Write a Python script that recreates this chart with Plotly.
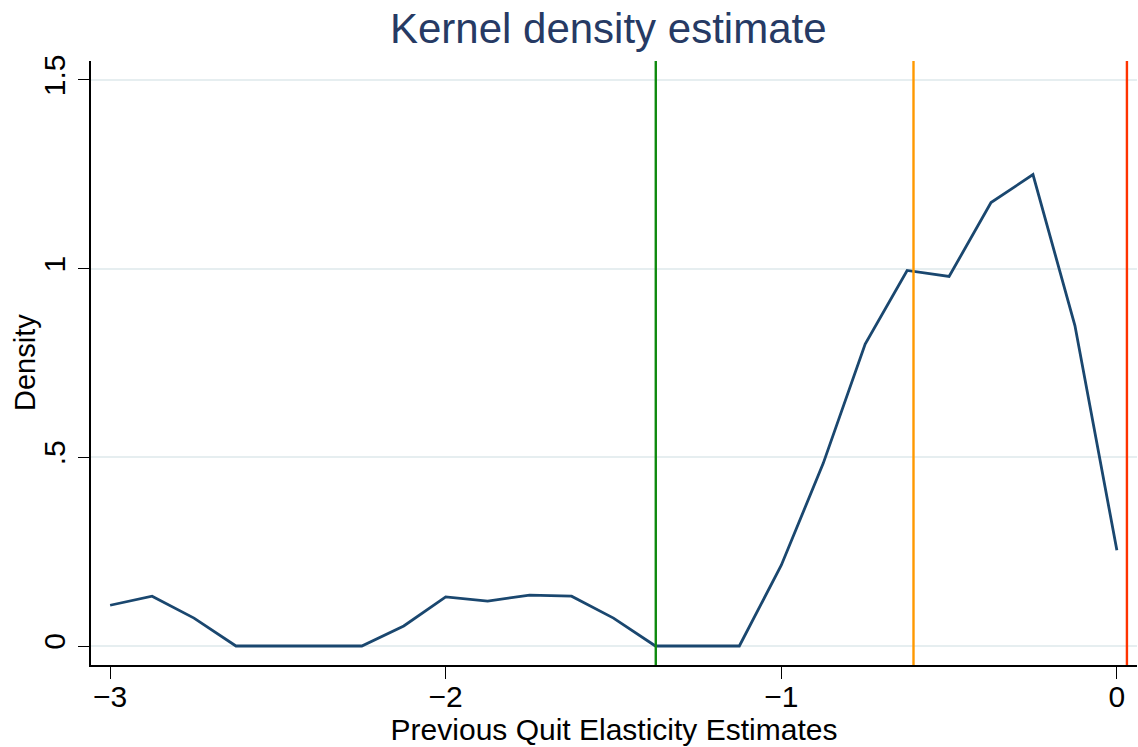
import plotly.graph_objects as go

# Density curve (grid points and estimated density)
x_grid = [-3.0, -2.875, -2.75, -2.625, -2.5, -2.375, -2.25, -2.125, -2.0, -1.875,
          -1.75, -1.625, -1.5, -1.375, -1.25, -1.125, -1.0, -0.875, -0.75, -0.625,
          -0.5, -0.375, -0.25, -0.125, 0.0]
density = [0.108, 0.132, 0.074, 0.0, 0.0, 0.0, 0.0, 0.053, 0.130, 0.119,
           0.135, 0.132, 0.074, 0.0, 0.0, 0.0, 0.214, 0.484, 0.800, 0.995,
           0.979, 1.175, 1.249, 0.849, 0.254]

# Reference lines
ref_x = [-1.374, -0.606, 0.030]
ref_colors = ["#0e8a0e", "#ff9900", "#ff3300"]

x_ticks = [-3, -2, -1, 0]
x_tick_labels = ["\u22123", "\u22122", "\u22121", "0"]
y_ticks = [0, 0.5, 1, 1.5]
y_tick_labels = ["0", ".5", "1", "1.5"]

fig = go.Figure()
fig.add_trace(go.Scatter(x=x_grid, y=density, mode="lines",
                         line=dict(color="#1a476f", width=2.8), showlegend=False,
                         hoverinfo="skip"))

for xv, c in zip(ref_x, ref_colors):
    fig.add_shape(type="line", x0=xv, x1=xv, xref="x", y0=0, y1=1, yref="paper",
                  line=dict(color=c, width=2.4))

font_family = "Liberation Sans, Arial, Helvetica, sans-serif"

fig.add_annotation(text="Density", xref="paper", yref="paper",
                   x=(25 - 91) / 1046, y=0.5, xanchor="center", yanchor="middle",
                   textangle=-90, showarrow=False,
                   font=dict(size=29, color="black", family=font_family))

fig.update_layout(
    width=1138, height=747,
    margin=dict(l=91, r=1, t=61, b=82, autoexpand=False),
    paper_bgcolor="white", plot_bgcolor="white",
    font=dict(family=font_family, color="black", size=29),
    title=dict(text="Kernel density estimate", x=0.5345, xanchor="center",
               y=1 - 28 / 747, yanchor="middle", yref="container",
               font=dict(size=42, color="#263a64", family=font_family)),
    xaxis=dict(range=[-3.057, 0.060], tickvals=x_ticks, ticktext=x_tick_labels,
               showgrid=False, zeroline=False, showline=True, linecolor="black",
               linewidth=1.5, ticks="outside", ticklen=12, tickwidth=1.3,
               tickcolor="black", tickfont=dict(size=30), automargin=False,
               ticklabelstandoff=-8,
               title=dict(text="Previous Quit Elasticity Estimates",
                          font=dict(size=30), standoff=6)),
    yaxis=dict(range=[-0.0503, 1.550], tickvals=y_ticks, ticktext=y_tick_labels,
               showgrid=True, gridcolor="#e6eef0", gridwidth=1.5, zeroline=False,
               showline=True, linecolor="black", linewidth=1.5, ticks="outside",
               ticklen=11, tickwidth=1.3, tickcolor="black", tickangle=-90,
               tickfont=dict(size=30), automargin=False, ticklabelstandoff=1),
)

fig.write_html("out.html", config={"displayModeBar": False})

# Remove default body margin so the figure sits at the window's top-left corner
with open("out.html", "r", encoding="utf-8") as f:
    html = f.read()
html = html.replace("<head>", "<head><style>html,body{margin:0;padding:0;overflow:hidden;}</style>", 1)
with open("out.html", "w", encoding="utf-8") as f:
    f.write(html)
